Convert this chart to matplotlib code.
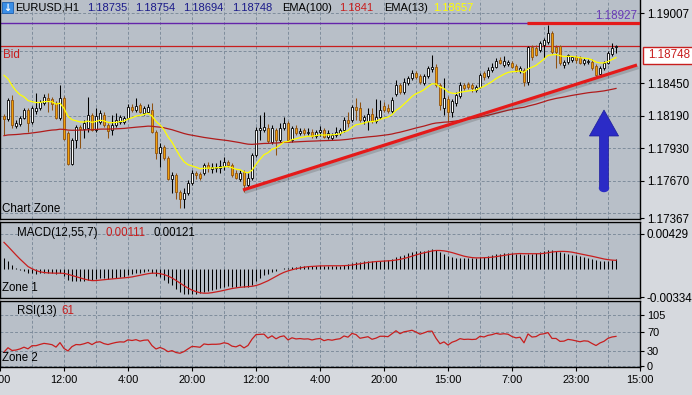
import numpy as np
import matplotlib
matplotlib.use("Agg")
import matplotlib.pyplot as plt
from matplotlib.patches import Rectangle, FancyArrow, Ellipse
import matplotlib.patheffects as pe

plt.rcParams['font.family'] = ['Liberation Sans', 'DejaVu Sans']

# ---------------- data ----------------
symbol = "EURUSD,H1"
bar_text = ["1.18735", "1.18754", "1.18694", "1.18748"]
ema100_text = "1.1841"
ema13_text = "1.18657"
macd_text = ["0.00111", "0.00121"]
rsi_text = "61"

opens = [
    1.18186, 1.18162, 1.18314, 1.18106, 1.18122, 1.18170, 1.18234, 1.18138, 1.18226, 1.18250,
    1.18290, 1.18330, 1.18322, 1.18290, 1.18170, 1.18330, 1.18050, 1.17802, 1.17994, 1.18098,
    1.18082, 1.18090, 1.18194, 1.18074, 1.18138, 1.18194, 1.18114, 1.18074, 1.18114, 1.18138,
    1.18138, 1.18170, 1.18258, 1.18234, 1.18274, 1.18210, 1.18218, 1.18234, 1.18058, 1.17890,
    1.17938, 1.17850, 1.17682, 1.17714, 1.17578, 1.17522, 1.17570, 1.17650, 1.17730, 1.17722,
    1.17730, 1.17794, 1.17762, 1.17770, 1.17770, 1.17786, 1.17818, 1.17794, 1.17730, 1.17682,
    1.17738, 1.17634, 1.17690, 1.17874, 1.18074, 1.18074, 1.18090, 1.17978, 1.18074, 1.17994,
    1.18090, 1.18130, 1.17994, 1.18090, 1.18050, 1.18074, 1.18050, 1.18058, 1.18026, 1.18058,
    1.18074, 1.18018, 1.18010, 1.18034, 1.18050, 1.18074, 1.18154, 1.18154, 1.18258, 1.18250,
    1.18154, 1.18146, 1.18202, 1.18146, 1.18178, 1.18266, 1.18250, 1.18226, 1.18362, 1.18434,
    1.18378, 1.18450, 1.18490, 1.18530, 1.18506, 1.18450, 1.18506, 1.18562, 1.18578, 1.18434,
    1.18250, 1.18322, 1.18218, 1.18290, 1.18346, 1.18434, 1.18442, 1.18434, 1.18394, 1.18418,
    1.18530, 1.18506, 1.18554, 1.18578, 1.18634, 1.18594, 1.18602, 1.18610, 1.18586, 1.18546,
    1.18554, 1.18458, 1.18738, 1.18730, 1.18714, 1.18754, 1.18778, 1.18850, 1.18738, 1.18746,
    1.18594, 1.18618, 1.18634, 1.18658, 1.18650, 1.18610, 1.18618, 1.18618, 1.18586, 1.18522,
    1.18570, 1.18610, 1.18682, 1.18735,
]
highs = [
    1.18202, 1.18330, 1.18354, 1.18154, 1.18186, 1.18250, 1.18250, 1.18266, 1.18370, 1.18314,
    1.18362, 1.18370, 1.18338, 1.18306, 1.18434, 1.18346, 1.18066, 1.18010, 1.18114, 1.18114,
    1.18154, 1.18338, 1.18210, 1.18250, 1.18234, 1.18218, 1.18130, 1.18194, 1.18210, 1.18194,
    1.18186, 1.18282, 1.18282, 1.18330, 1.18290, 1.18266, 1.18282, 1.18290, 1.18074, 1.17970,
    1.17954, 1.17866, 1.17738, 1.17730, 1.17594, 1.17610, 1.17674, 1.17754, 1.17746, 1.17738,
    1.17810, 1.17818, 1.17810, 1.17810, 1.17834, 1.17858, 1.17834, 1.17810, 1.17754, 1.17754,
    1.17754, 1.17730, 1.17890, 1.18098, 1.18194, 1.18218, 1.18122, 1.18114, 1.18090, 1.18130,
    1.18178, 1.18146, 1.18106, 1.18114, 1.18090, 1.18090, 1.18090, 1.18082, 1.18074, 1.18106,
    1.18090, 1.18074, 1.18050, 1.18098, 1.18090, 1.18178, 1.18218, 1.18274, 1.18330, 1.18298,
    1.18194, 1.18250, 1.18250, 1.18322, 1.18314, 1.18298, 1.18282, 1.18338, 1.18474, 1.18450,
    1.18490, 1.18506, 1.18554, 1.18546, 1.18522, 1.18522, 1.18586, 1.18674, 1.18602, 1.18450,
    1.18490, 1.18346, 1.18322, 1.18378, 1.18458, 1.18450, 1.18458, 1.18450, 1.18434, 1.18530,
    1.18546, 1.18578, 1.18610, 1.18650, 1.18658, 1.18666, 1.18634, 1.18626, 1.18602, 1.18586,
    1.18570, 1.18746, 1.18754, 1.18754, 1.18786, 1.18810, 1.18914, 1.18866, 1.18754, 1.18754,
    1.18634, 1.18682, 1.18666, 1.18674, 1.18666, 1.18650, 1.18642, 1.18642, 1.18602, 1.18586,
    1.18626, 1.18706, 1.18770, 1.18754,
]
lows = [
    1.18034, 1.18146, 1.18090, 1.18090, 1.18106, 1.18162, 1.18058, 1.18122, 1.18202, 1.18234,
    1.18274, 1.18218, 1.18234, 1.18162, 1.18154, 1.17994, 1.17794, 1.17794, 1.17930, 1.17930,
    1.18010, 1.18058, 1.18066, 1.18058, 1.18122, 1.18098, 1.18010, 1.18034, 1.18098, 1.18122,
    1.18122, 1.18162, 1.18218, 1.18218, 1.18210, 1.18194, 1.18210, 1.18050, 1.17842, 1.17778,
    1.17834, 1.17674, 1.17570, 1.17522, 1.17450, 1.17450, 1.17554, 1.17634, 1.17682, 1.17674,
    1.17714, 1.17738, 1.17730, 1.17738, 1.17730, 1.17754, 1.17778, 1.17698, 1.17682, 1.17666,
    1.17578, 1.17610, 1.17674, 1.17858, 1.17994, 1.18058, 1.17970, 1.17962, 1.17874, 1.17978,
    1.18074, 1.17986, 1.17978, 1.18034, 1.18034, 1.18034, 1.18034, 1.18010, 1.18010, 1.18026,
    1.18010, 1.18002, 1.17994, 1.18018, 1.18034, 1.18058, 1.18098, 1.18138, 1.18154, 1.18138,
    1.18122, 1.18074, 1.18130, 1.18130, 1.18162, 1.18218, 1.18210, 1.18210, 1.18346, 1.18362,
    1.18362, 1.18434, 1.18474, 1.18482, 1.18442, 1.18434, 1.18490, 1.18538, 1.18418, 1.18234,
    1.18194, 1.18138, 1.18178, 1.18266, 1.18330, 1.18394, 1.18402, 1.18378, 1.18378, 1.18410,
    1.18474, 1.18490, 1.18538, 1.18570, 1.18602, 1.18578, 1.18586, 1.18570, 1.18538, 1.18530,
    1.18426, 1.18434, 1.18634, 1.18666, 1.18698, 1.18650, 1.18762, 1.18682, 1.18570, 1.18594,
    1.18570, 1.18602, 1.18618, 1.18610, 1.18602, 1.18594, 1.18602, 1.18554, 1.18490, 1.18506,
    1.18554, 1.18602, 1.18666, 1.18694,
]
closes = [
    1.18162, 1.18314, 1.18114, 1.18130, 1.18170, 1.18234, 1.18130, 1.18250, 1.18250, 1.18298,
    1.18338, 1.18314, 1.18282, 1.18170, 1.18330, 1.18002, 1.17802, 1.17994, 1.18098, 1.18082,
    1.18130, 1.18194, 1.18074, 1.18186, 1.18210, 1.18114, 1.18066, 1.18114, 1.18154, 1.18178,
    1.18170, 1.18258, 1.18234, 1.18266, 1.18218, 1.18250, 1.18258, 1.18058, 1.17890, 1.17938,
    1.17850, 1.17682, 1.17714, 1.17578, 1.17522, 1.17570, 1.17650, 1.17730, 1.17714, 1.17690,
    1.17794, 1.17770, 1.17778, 1.17778, 1.17786, 1.17818, 1.17794, 1.17714, 1.17690, 1.17730,
    1.17634, 1.17690, 1.17874, 1.18074, 1.18090, 1.18098, 1.17986, 1.18090, 1.17994, 1.18090,
    1.18130, 1.17994, 1.18090, 1.18050, 1.18066, 1.18050, 1.18058, 1.18026, 1.18058, 1.18074,
    1.18018, 1.18050, 1.18034, 1.18058, 1.18074, 1.18154, 1.18130, 1.18258, 1.18234, 1.18154,
    1.18178, 1.18202, 1.18146, 1.18178, 1.18234, 1.18234, 1.18226, 1.18314, 1.18434, 1.18378,
    1.18458, 1.18490, 1.18530, 1.18498, 1.18458, 1.18506, 1.18570, 1.18578, 1.18434, 1.18274,
    1.18330, 1.18218, 1.18306, 1.18354, 1.18434, 1.18410, 1.18418, 1.18410, 1.18418, 1.18514,
    1.18498, 1.18554, 1.18578, 1.18626, 1.18610, 1.18626, 1.18618, 1.18578, 1.18554, 1.18570,
    1.18458, 1.18738, 1.18658, 1.18674, 1.18770, 1.18794, 1.18850, 1.18698, 1.18698, 1.18610,
    1.18618, 1.18674, 1.18658, 1.18634, 1.18610, 1.18634, 1.18626, 1.18570, 1.18514, 1.18570,
    1.18610, 1.18690, 1.18730, 1.18748,
]

time_ticks = [-1, 15, 31, 47, 63, 79, 95, 111, 127, 143, 159]
time_labels = ["4:00", "12:00", "4:00", "20:00", "12:00", "4:00", "20:00",
               "15:00", "7:00", "23:00", "15:00"]
price_ticks = [1.19007, 1.18450, 1.18190, 1.17930, 1.17670, 1.17367]
price_labels = ["1.19007", "1.18450", "1.18190", "1.17930", "1.17670", "1.17367"]
price_grid = [1.19007, 1.18710, 1.18450, 1.18190, 1.17930, 1.17670, 1.17410]
bid_price = 1.18748
level_price = 1.18927
macd_ticks = [0.00429, -0.00334]
macd_labels = ["0.00429", "-0.00334"]
rsi_ticks = [105, 70, 30, 0]
rsi_labels = ["105", "70", "30", "0"]

# indicator warm-up state (values just before the first visible bar)
ema13_seed = 1.18570
ema100_seed = 1.18026
ema12_seed = 1.18586
ema55_seed = 1.18395
macd_prior = [0.0045, 0.0042, 0.0038, 0.0034, 0.0030, 0.0027]
rsi_seed_gain = 0.00028
rsi_seed_loss = 0.00068

# drawn objects
trend_x = [59.75, 158.25]
trend_y = [1.17594, 1.18594]
level_x0 = 130.75
arrow_x = 150
arrow_base = 1.17610
arrow_tip = 1.18234

# ---------------- indicators ----------------
n = min(len(opens), len(highs), len(lows), len(closes))
o = np.array(opens[:n]); h = np.array(highs[:n]); l = np.array(lows[:n]); c = np.array(closes[:n])
idx = np.arange(n)


def ema(vals, period, seed):
    a = 2.0 / (period + 1)
    e = seed
    out = []
    for v in vals:
        e = e + a * (v - e)
        out.append(e)
    return np.array(out)


ema13 = ema(c, 13, ema13_seed)
ema100 = ema(c, 100, ema100_seed)
macd = ema(c, 12, ema12_seed) - ema(c, 55, ema55_seed)
full = list(macd_prior) + list(macd)
signal = np.array([np.mean(full[i:i + 7]) for i in range(n)])

rsi = []
ag, al = rsi_seed_gain, rsi_seed_loss
prev = o[0]
for v in c:
    d = v - prev
    ag = (ag * 12 + max(d, 0)) / 13
    al = (al * 12 + max(-d, 0)) / 13
    rsi.append(100 - 100 / (1 + ag / al))
    prev = v
rsi = np.array(rsi)

# ---------------- figure ----------------
W, H = 692, 395
PLOT_BG = '#B8BFC8'
OUTER = '#D6D9DE'
GRID = '#7F8D9C'
RED = '#C81E1E'
fig = plt.figure(figsize=(W / 100, H / 100), dpi=100)
fig.patch.set_facecolor(OUTER)


def rect(x0, y0, x1, y1):
    return [x0 / W, 1 - y1 / H, (x1 - x0) / W, (y1 - y0) / H]


def fx(x):
    return x / W


def fy(y):
    return 1 - y / H


ax1 = fig.add_axes(rect(0, 0, 640, 219))
ax2 = fig.add_axes(rect(0, 222, 640, 298))
ax3 = fig.add_axes(rect(0, 301, 640, 367))

grid_idx = np.arange(7, 159, 8)
for ax in (ax1, ax2, ax3):
    ax.set_facecolor(PLOT_BG)
    ax.set_xlim(-1, 159)
    for s in ax.spines.values():
        s.set_color('black')
        s.set_linewidth(1.0)
    for g in grid_idx:
        ax.axvline(g, color=GRID, lw=0.7, ls=(0, (3, 2)), zorder=0.5)
    ax.yaxis.tick_right()
    ax.tick_params(axis='y', direction='out', length=3, width=0.8, pad=2,
                   labelsize=8.4, colors='black')
    ax.tick_params(axis='x', bottom=False, labelbottom=False)
ax1.spines['top'].set_visible(False)

# ---- main price panel ----
ax1.set_ylim(1.17362, 1.19114)
for p in price_grid:
    ax1.axhline(p, color=GRID, lw=0.7, ls=(0, (3, 2)), zorder=0.5)
ax1.set_yticks(price_ticks)
ax1.set_yticklabels(price_labels)

ax1.axhline(level_price, color='#6424AA', lw=1.0, zorder=1)
ax1.axhline(bid_price, color=RED, lw=0.9, zorder=1)

up = c >= o
dn = ~up
ORANGE = '#F0A00A'
BROWN = '#8E5212'
ax1.vlines(idx[up], l[up], h[up], color='black', lw=0.75, zorder=2)
ax1.vlines(idx[dn], l[dn], h[dn], color=BROWN, lw=0.75, zorder=2)
body = np.maximum(np.abs(c - o), 0.00002)
ax1.bar(idx[up], body[up], bottom=o[up], width=0.55, color='white',
        edgecolor='black', linewidth=0.6, zorder=3)
ax1.bar(idx[dn], body[dn], bottom=c[dn], width=0.55, color=ORANGE,
        edgecolor=BROWN, linewidth=0.6, zorder=3)

ax1.plot(idx, ema100, color='#B01C1C', lw=0.9, zorder=4)
ax1.plot(idx, ema13, color='#FFFF00', lw=0.9, zorder=4)

ax1.plot(trend_x, trend_y, color='#E41A1A', lw=2.3, solid_capstyle='butt', zorder=6,
         path_effects=[pe.SimpleLineShadow(offset=(1.2, -1.8), shadow_color='#404040', alpha=0.22),
                       pe.Normal()])
ax1.plot([level_x0, 159], [level_price, level_price], color='#E41A1A', lw=2.3,
         solid_capstyle='butt', zorder=6)

ax1.add_patch(FancyArrow(arrow_x, arrow_base, 0, arrow_tip - arrow_base, width=2.25,
                         head_width=7.3, head_length=0.00208, length_includes_head=True,
                         color='#2B2BC6', ec='#1C1C9A', lw=0.5, zorder=7))
ax1.add_patch(Ellipse((arrow_x, arrow_base), 2.25, 0.00056, color='#2B2BC6', zorder=7))

# ---- MACD panel ----
ax2.set_ylim(-0.00346, 0.00574)
ax2.axhline(macd_ticks[0], color=GRID, lw=0.7, ls=(0, (3, 2)), zorder=0.5)
ax2.vlines(idx, 0, macd, color='black', lw=0.75, zorder=2)
ax2.plot(idx, signal, color=RED, lw=0.9, zorder=3)
ax2.set_yticks(macd_ticks)
ax2.set_yticklabels(macd_labels)

# ---- RSI panel ----
ax3.set_ylim(-2, 132.8)
for r in rsi_ticks:
    ax3.axhline(r, color=GRID, lw=0.7, ls=(0, (3, 2)), zorder=0.5)
ax3.plot(idx, rsi, color=RED, lw=0.9, zorder=3)
ax3.set_yticks(rsi_ticks)
ax3.set_yticklabels(rsi_labels)
ax3.tick_params(axis='y', labelsize=7.9)
ax3.set_xticks(time_ticks)
ax3.set_xticklabels(time_labels)
ax3.tick_params(axis='x', bottom=True, labelbottom=True, direction='out', length=3,
                width=0.8, pad=3, labelsize=7.9, colors='black')

# ---------------- texts ----------------
TS = 8.0
fig.patches.append(Rectangle((fx(2), fy(13)), 11 / W, 11 / H, transform=fig.transFigure,
                             facecolor='#3A8EE6', edgecolor='#1E5FAF', lw=0.6, zorder=10))
fig.text(fx(7.5), fy(7.5), '\u2193', color='white', fontsize=7, fontweight='bold',
         ha='center', va='center', family='DejaVu Sans', zorder=11)
fig.text(fx(15), fy(8), symbol, fontsize=TS, color='black', va='center')
for xpos, t in zip([87, 135, 183, 232], bar_text):
    fig.text(fx(xpos), fy(8), t, fontsize=TS, color='#1A1A8A', va='center')
fig.text(fx(282), fy(8), 'EMA(100)', fontsize=TS, color='black', va='center')
fig.text(fx(339), fy(8), ema100_text, fontsize=TS, color=RED, va='center')
fig.text(fx(384), fy(8), 'EMA(13)', fontsize=TS, color='black', va='center')
fig.text(fx(433), fy(8), ema13_text, fontsize=TS, color='#FFFF00', va='center')

fig.text(fx(637), fy(16), '1.18927', fontsize=8.4, color='#6A3CB8', va='center', ha='right')
fig.text(fx(3), fy(55), 'Bid', fontsize=8.4, color=RED, va='center')
fig.text(fx(2), fy(209), 'Chart Zone', fontsize=8.4, color='black', va='center')

fig.patches.append(Rectangle((fx(643), fy(64)), 52 / W, 17 / H, transform=fig.transFigure,
                             facecolor='white', edgecolor=RED, lw=1.0, zorder=10))
fig.text(fx(648), fy(55.5), '1.18748', fontsize=8.4, color=RED, va='center', zorder=11)

fig.text(fx(17), fy(233), 'MACD(12,55,7)', fontsize=8.3, color='black', va='center')
fig.text(fx(105), fy(233), macd_text[0], fontsize=8.3, color=RED, va='center')
fig.text(fx(153), fy(233), macd_text[1], fontsize=8.3, color='black', va='center')
fig.text(fx(2), fy(288), 'Zone 1', fontsize=8.3, color='black', va='center')

fig.text(fx(17), fy(311), 'RSI(13)', fontsize=8.3, color='black', va='center')
fig.text(fx(61), fy(311), rsi_text, fontsize=8.3, color=RED, va='center')
fig.text(fx(2), fy(358), 'Zone 2', fontsize=8.3, color='black', va='center')

fig.savefig('out.png', dpi=100, facecolor=fig.get_facecolor())
